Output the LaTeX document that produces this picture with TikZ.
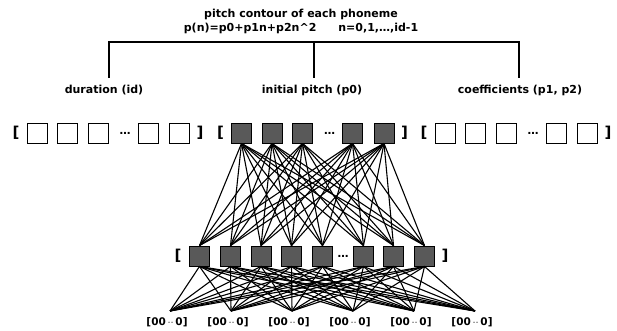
\documentclass[tikz,border=0pt]{standalone}
\usepackage{fontspec}
\setmainfont{DejaVu Sans}
\usetikzlibrary{positioning}
\tikzset{
  emptybox/.style={draw,line width=0.9pt,minimum width=20pt,minimum height=20pt,inner sep=0pt},
  fullbox/.style={emptybox,fill=black!65},
  lbl/.style={font=\fontsize{11}{12}\selectfont\bfseries,inner sep=0pt},
  outlbl/.style={font=\fontsize{10.5}{11}\selectfont\bfseries,inner sep=0pt},
  brk/.style={font=\fontsize{15}{15}\selectfont\bfseries,inner sep=0pt},
  tree/.style={line width=1.6pt},
  link/.style={line width=1.1pt}
}

\begin{document}
\begin{tikzpicture}[x=1pt,y=-1pt]
\useasboundingbox (0,0) rectangle (617,331);
% heading and tree
\node[lbl] (title) at (301,14) {pitch contour of each phoneme};
\node[lbl] (formula) at (301,28) {p(n)=p0+p1n+p2n\textasciicircum 2\qquad n=0,1,\dots,id-1};
\coordinate (jl) at (109,42);
\coordinate (jm) at (314,42);
\coordinate (jr) at (519,42);
\coordinate (el) at (109,78);
\coordinate (em) at (314,78);
\coordinate (er) at (519,78);
\draw[tree] (el) -- (jl) -- (jr) -- (er);
\draw[tree] (jm) -- (em);
\node[lbl] (dur) at (104,90) {duration (id)};
\node[lbl] (ini) at (312,90) {initial pitch (p0)};
\node[lbl] (coef) at (520,90) {coefficients (p1, p2)};
% parameter groups
\foreach \g/\gx/\st in {d/37/emptybox, p/241.5/fullbox, c/445/emptybox} {
  \foreach \i/\dx in {1/0,2/30.5,3/61,4/111,5/142.5}
    \node[\st] (\g\i) at (\gx+\dx,133) {};
  \node[brk] (\g l) at (\gx-21,133) {[};
  \node[brk] (\g r) at (\gx+163,133) {]};
  \node[lbl] (\g dots) at (\gx+88,133) {\dots};
}
% hidden layer
\foreach \i/\mx in {1/199.5,2/230.5,3/261,4/291.5,5/322.5,6/363.5,7/393.5,8/424.5}
  \node[fullbox] (m\i) at (\mx,256) {};
\node[brk] (ml) at (178,256) {[};
\node[brk] (mr) at (445,256) {]};
\node[lbl] (mdots) at (343,256) {\dots};
% outputs
\foreach \k/\ox in {1/170,2/231,3/292,4/353,5/414,6/475} {
  \coordinate (o\k) at (\ox,311);
  \node[outlbl] (v\k) at (\ox-3,322) {[00\,$\cdot\cdot$\,0]};
}
\foreach \i in {1,...,5}
  \foreach \j in {1,...,8}
    \draw[link] (p\i.south) -- (m\j.north);
\foreach \j in {1,...,8}
  \foreach \k in {1,...,6}
    \draw[link] (m\j.south) -- (o\k);
\end{tikzpicture}
\end{document}
